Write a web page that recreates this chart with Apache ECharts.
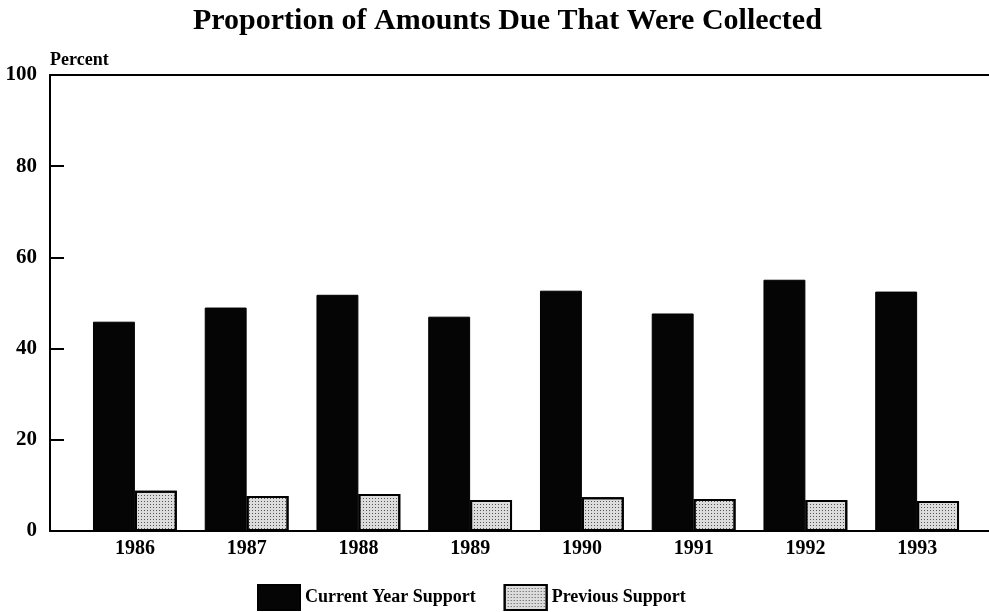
<!DOCTYPE html>
<html>
<head>
<meta charset="utf-8">
<title>Proportion of Amounts Due That Were Collected</title>
<script src="https://cdn.jsdelivr.net/npm/echarts@6/dist/echarts.min.js"></script>
<style>
  html, body { margin: 0; padding: 0; background: #fff; }
  #main { width: 989px; height: 612px; }
</style>
</head>
<body>
<div id="main"></div>
<script>
// data
const years = ['1986', '1987', '1988', '1989', '1990', '1991', '1992', '1993']
const currentYear = [45.9, 49.0, 51.8, 47.0, 52.7, 47.7, 55.1, 52.5]
const previous = [8.8, 7.7, 8.1, 6.8, 7.4, 7.0, 6.8, 6.6]
const yTicks = [0, 20, 40, 60, 80, 100]

const serif = '"Liberation Serif", "DejaVu Serif", serif'

const chart = echarts.init(document.getElementById('main'))

chart.setOption({
  animation: false,
  title: {
    text: 'Proportion of Amounts Due That Were Collected',
    left: 193,
    top: 6,
    padding: 0,
    textStyle: { fontFamily: serif, fontWeight: 'bold', fontSize: 30, color: '#000' }
  },
  legend: {
    top: 584,
    left: 257,
    padding: 0,
    icon: 'rect',
    itemWidth: 42,
    itemHeight: 25,
    itemGap: 28,
    textStyle: { fontFamily: serif, fontWeight: 'bold', fontSize: 18, color: '#000' },
    data: ['Current Year Support', 'Previous Support']
  },
  grid: [
    // frame: y axis, top line, baseline
    { left: 50, right: 0, top: 75, bottom: 81 },
    // bars
    { left: 79, right: 16, top: 75, bottom: 81 }
  ],
  xAxis: [
    {
      gridIndex: 0, type: 'value', min: 0, max: 1, position: 'bottom',
      axisLine: { show: true, lineStyle: { color: '#000', width: 2 } },
      axisTick: { show: false }, axisLabel: { show: false }, splitLine: { show: false }
    },
    {
      gridIndex: 0, type: 'value', min: 0, max: 1, position: 'top',
      axisLine: { show: true, onZero: false, lineStyle: { color: '#000', width: 2 } },
      axisTick: { show: false }, axisLabel: { show: false }, splitLine: { show: false }
    },
    {
      gridIndex: 1, type: 'category', data: years,
      axisLine: { show: false }, axisTick: { show: false },
      axisLabel: { fontFamily: serif, fontWeight: 'bold', fontSize: 20, color: '#000', margin: 8 }
    }
  ],
  yAxis: [
    {
      gridIndex: 0, type: 'value', min: 0, max: 100, interval: 20,
      name: 'Percent', nameLocation: 'end', nameGap: 6,
      nameTextStyle: { fontFamily: serif, fontWeight: 'bold', fontSize: 18, color: '#000', align: 'left' },
      axisLine: { show: true, lineStyle: { color: '#000', width: 2 } },
      axisTick: { show: true, inside: true, length: 14, lineStyle: { color: '#000', width: 2 } },
      axisLabel: {
        fontFamily: serif, fontWeight: 'bold', fontSize: 21, color: '#000', margin: 13,
        formatter: v => yTicks.includes(v) ? String(v) : ''
      },
      splitLine: { show: false }
    },
    {
      gridIndex: 1, type: 'value', min: 0, max: 100, show: false
    }
  ],
  series: [
    {
      name: 'Current Year Support',
      type: 'bar',
      xAxisIndex: 2, yAxisIndex: 1,
      data: currentYear,
      barGap: '0%',
      barCategoryGap: '25%',
      itemStyle: { color: '#050505', borderColor: '#000', borderWidth: 1 }
    },
    {
      name: 'Previous Support',
      type: 'bar',
      xAxisIndex: 2, yAxisIndex: 1,
      data: previous,
      itemStyle: {
        color: '#dcdcdc',
        borderColor: '#000',
        borderWidth: 2,
        decal: {
          symbol: 'rect',
          symbolSize: 1,
          color: '#555',
          dashArrayX: [1, 2],
          dashArrayY: [1, 2],
          rotation: 0
        }
      }
    }
  ]
})
</script>
</body>
</html>
